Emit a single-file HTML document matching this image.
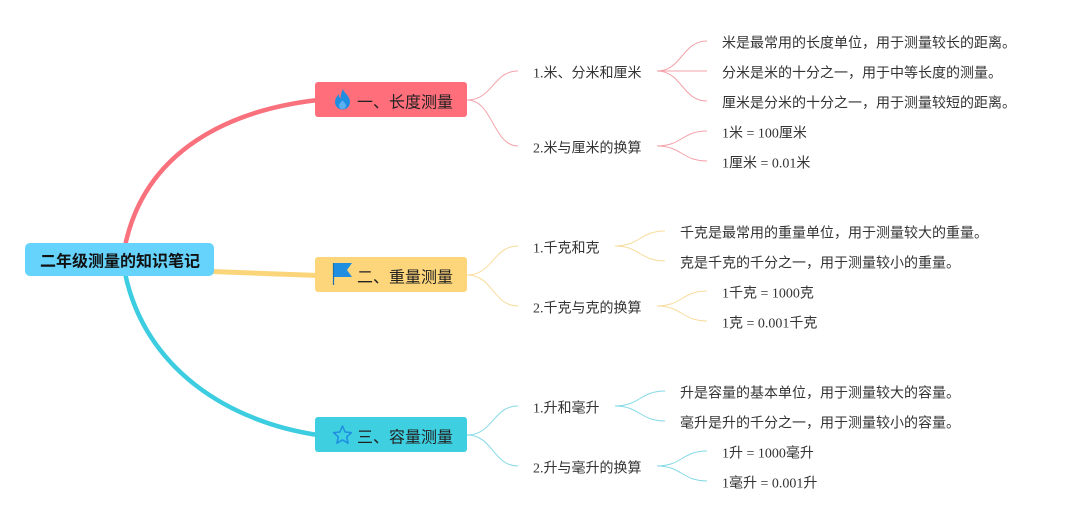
<!DOCTYPE html>
<html><head><meta charset="utf-8"><style>
html,body{margin:0;padding:0;background:#fff;}
svg{display:block;}
.t{font-family:"Liberation Serif","Noto Sans CJK SC",sans-serif;font-size:14px;fill:#333;}
.b{font-family:"Liberation Sans","Noto Sans CJK SC",sans-serif;font-size:16px;fill:#222;}
.r{font-family:"Liberation Sans","Noto Sans CJK SC",sans-serif;font-size:16px;font-weight:bold;fill:#111;}
</style></head><body>
<svg width="1076" height="520" viewBox="0 0 1076 520" xmlns="http://www.w3.org/2000/svg">
<rect width="1076" height="520" fill="#fff"/>
<!-- main branches -->
<path d="M125,246 C145,150 230,110 318,100" fill="none" stroke="#F8717C" stroke-width="4.5"/>
<path d="M125,273 C145,370 230,422 318,435" fill="none" stroke="#3DCDE0" stroke-width="4.5"/>
<path d="M212,271.5 L318,275.5" fill="none" stroke="#FAD57A" stroke-width="5"/>

<!-- root -->
<rect x="25" y="243" width="189" height="33" rx="5" fill="#65D3FC"/>
<text x="120" y="262" class="r" text-anchor="middle" dominant-baseline="central">二年级测量的知识笔记</text>

<!-- box 1 -->
<rect x="315" y="82" width="152" height="35" rx="3" fill="#FF6F7B"/>
<path d="M343,89 C344,93 350,96 350,102 C350,106.5 346.5,109.5 342.5,109.5 C338.5,109.5 335,106.5 335,102 C335,98.5 337,96.5 338.5,94 C339,96.5 339.5,97.5 340.5,98.5 C340.5,95 341.5,92 343,89 Z" fill="#1F8EE0"/>
<path d="M342.5,100 C343.5,102 346,103.5 346,105.5 C346,107.7 344.5,109 342.5,109 C340.5,109 339,107.7 339,105.5 C339,103.5 341.5,102 342.5,100 Z" fill="#5AB0F0"/>
<text x="357" y="103" class="b" dominant-baseline="central">一、长度测量</text>

<!-- box 2 -->
<rect x="315" y="257" width="152" height="35" rx="3" fill="#FDD67B"/>
<line x1="333.5" y1="263" x2="333.5" y2="285" stroke="#1A6FB0" stroke-width="1.2"/>
<polygon points="334,263 352,263 347,270 352,277 334,277" fill="#1F8EE0"/>
<text x="357" y="278" class="b" dominant-baseline="central">二、重量测量</text>

<!-- box 3 -->
<rect x="315" y="417" width="152" height="35" rx="3" fill="#3ECFE1"/>
<polygon points="342.5,426 345.1,432 351.5,432.6 346.7,436.9 348.1,443.2 342.5,439.9 336.9,443.2 338.3,436.9 333.5,432.6 339.9,432" fill="none" stroke="#1F8EE0" stroke-width="1.5" stroke-linejoin="round"/>
<text x="357" y="438" class="b" dominant-baseline="central">三、容量测量</text>

<!-- group 1 connectors -->
<g fill="none" stroke="#F3A3AA" stroke-width="1">
<path d="M467,100 C493,100 493,71 518,71"/>
<path d="M467,100 C493,100 493,146 518,146"/>
<path d="M657,71 C682,71 682,41 707,41"/>
<path d="M657,71 L707,71"/>
<path d="M657,71 C682,71 682,101 707,101"/>
<path d="M657,146 C682,146 682,131 707,131"/>
<path d="M657,146 C682,146 682,161 707,161"/>
</g>
<!-- group 2 connectors -->
<g fill="none" stroke="#F8DC9C" stroke-width="1">
<path d="M467,275 C493,275 493,246 518,246"/>
<path d="M467,275 C493,275 493,306 518,306"/>
<path d="M615,246 C640,246 640,231 665,231"/>
<path d="M615,246 C640,246 640,261 665,261"/>
<path d="M657,306 C682,306 682,291 707,291"/>
<path d="M657,306 C682,306 682,321 707,321"/>
</g>
<!-- group 3 connectors -->
<g fill="none" stroke="#86D9E6" stroke-width="1">
<path d="M467,435 C493,435 493,406 518,406"/>
<path d="M467,435 C493,435 493,466 518,466"/>
<path d="M615,406 C640,406 640,391 665,391"/>
<path d="M615,406 C640,406 640,421 665,421"/>
<path d="M657,466 C682,466 682,451 707,451"/>
<path d="M657,466 C682,466 682,481 707,481"/>
</g>

<!-- group 1 text -->
<text x="533" y="74" class="t" dominant-baseline="central">1.米、分米和厘米</text>
<text x="533" y="149" class="t" dominant-baseline="central">2.米与厘米的换算</text>
<text x="722" y="44" class="t" dominant-baseline="central">米是最常用的长度单位，用于测量较长的距离。</text>
<text x="722" y="74" class="t" dominant-baseline="central">分米是米的十分之一，用于中等长度的测量。</text>
<text x="722" y="104" class="t" dominant-baseline="central">厘米是分米的十分之一，用于测量较短的距离。</text>
<text x="722" y="134" class="t" dominant-baseline="central">1米 = 100厘米</text>
<text x="722" y="164" class="t" dominant-baseline="central">1厘米 = 0.01米</text>

<!-- group 2 text -->
<text x="533" y="249" class="t" dominant-baseline="central">1.千克和克</text>
<text x="533" y="309" class="t" dominant-baseline="central">2.千克与克的换算</text>
<text x="680" y="234" class="t" dominant-baseline="central">千克是最常用的重量单位，用于测量较大的重量。</text>
<text x="680" y="264" class="t" dominant-baseline="central">克是千克的千分之一，用于测量较小的重量。</text>
<text x="722" y="294" class="t" dominant-baseline="central">1千克 = 1000克</text>
<text x="722" y="324" class="t" dominant-baseline="central">1克 = 0.001千克</text>

<!-- group 3 text -->
<text x="533" y="409" class="t" dominant-baseline="central">1.升和毫升</text>
<text x="533" y="469" class="t" dominant-baseline="central">2.升与毫升的换算</text>
<text x="680" y="394" class="t" dominant-baseline="central">升是容量的基本单位，用于测量较大的容量。</text>
<text x="680" y="424" class="t" dominant-baseline="central">毫升是升的千分之一，用于测量较小的容量。</text>
<text x="722" y="454" class="t" dominant-baseline="central">1升 = 1000毫升</text>
<text x="722" y="484" class="t" dominant-baseline="central">1毫升 = 0.001升</text>
</svg>
</body></html>
